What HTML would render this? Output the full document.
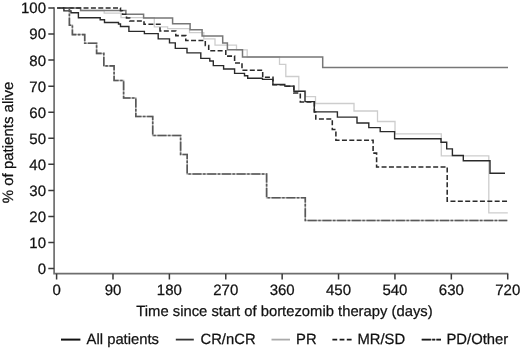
<!DOCTYPE html>
<html><head><meta charset="utf-8"><style>
html,body{margin:0;padding:0;background:#fff;}
svg{display:block;will-change:transform;}
text{font-family:"Liberation Sans",sans-serif;fill:#111;stroke:#111;stroke-width:0.25px;text-rendering:geometricPrecision;}
.t{font-size:15px;}
.xt{font-size:14.8px;}
.yt{font-size:15px;}
.lg{font-size:14.8px;}
path{fill:none;}
.all{stroke:#2a2a2a;stroke-width:1.4;}
.cr{stroke:#777;stroke-width:1.5;}
.pr{stroke:#cdcdcd;stroke-width:1.3;}
.mr{stroke:#2a2a2a;stroke-width:1.55;stroke-dasharray:5 2.37;stroke-dashoffset:3.35;}
.pd{stroke:#585858;stroke-width:1.6;stroke-dasharray:9 1.6 2.4 1.7;stroke-dashoffset:7.6;}
.pdu{stroke:#b0b0b0;stroke-width:1.5;}
.lall{stroke:#111;stroke-width:2;}
.lcr{stroke:#333;stroke-width:1.8;}
.lpr{stroke:#aaa;stroke-width:1.8;}
.lmr{stroke:#1a1a1a;stroke-width:1.9;stroke-dasharray:4.8 2.4;}
.lpd{stroke:#1a1a1a;stroke-width:1.9;stroke-dasharray:9.2 1.3 2.8 1.4;}
</style></head><body>
<svg width="520" height="348" viewBox="0 0 520 348">
<path d="M54.1 7.2V273.7H508.32000000000005" fill="none" stroke="#6e6e6e" stroke-width="1.7"/>
<path d="M48.3 8.00H54.1 M48.3 34.06H54.1 M48.3 60.12H54.1 M48.3 86.18H54.1 M48.3 112.24H54.1 M48.3 138.30H54.1 M48.3 164.36H54.1 M48.3 190.42H54.1 M48.3 216.48H54.1 M48.3 242.54H54.1 M48.3 268.60H54.1 M56.60 273.7V279.4 M112.99 273.7V279.4 M169.38 273.7V279.4 M225.77 273.7V279.4 M282.16 273.7V279.4 M338.55 273.7V279.4 M394.94 273.7V279.4 M451.33 273.7V279.4 M507.72 273.7V279.4" stroke="#3a3a3a" stroke-width="1.5" fill="none"/>
<text x="46.0" y="13.40" text-anchor="end" class="t">100</text>
<text x="46.0" y="39.46" text-anchor="end" class="t">90</text>
<text x="46.0" y="65.52" text-anchor="end" class="t">80</text>
<text x="46.0" y="91.58" text-anchor="end" class="t">70</text>
<text x="46.0" y="117.64" text-anchor="end" class="t">60</text>
<text x="46.0" y="143.70" text-anchor="end" class="t">50</text>
<text x="46.0" y="169.76" text-anchor="end" class="t">40</text>
<text x="46.0" y="195.82" text-anchor="end" class="t">30</text>
<text x="46.0" y="221.88" text-anchor="end" class="t">20</text>
<text x="46.0" y="247.94" text-anchor="end" class="t">10</text>
<text x="46.0" y="274.00" text-anchor="end" class="t">0</text>
<text x="56.60" y="294.6" text-anchor="middle" class="t">0</text>
<text x="112.99" y="294.6" text-anchor="middle" class="t">90</text>
<text x="169.38" y="294.6" text-anchor="middle" class="t">180</text>
<text x="225.77" y="294.6" text-anchor="middle" class="t">270</text>
<text x="282.16" y="294.6" text-anchor="middle" class="t">360</text>
<text x="338.55" y="294.6" text-anchor="middle" class="t">450</text>
<text x="394.94" y="294.6" text-anchor="middle" class="t">540</text>
<text x="451.33" y="294.6" text-anchor="middle" class="t">630</text>
<text x="507.72" y="294.6" text-anchor="middle" class="t">720</text>
<text x="136.3" y="315.7" class="xt">Time since start of bortezomib therapy (days)</text>
<text transform="translate(12.9,203.3) rotate(-90)" class="yt">% of patients alive</text>
<path d="M57.4 8.0L69.4 8.0L69.4 25.2L72.4 25.2L72.4 34.6L84.7 34.6L84.7 43.3L96.6 43.3L96.6 53.4L103.8 53.4L103.8 65.9L114.1 65.9L114.1 80.5L123.6 80.5L123.6 98L135.8 98L135.8 116.5L152.7 116.5L152.7 135.5L180.6 135.5L180.6 154.5L187.2 154.5L187.2 174L266.6 174L266.6 197.8L305.3 197.8L305.3 220.5L507.3 220.5" class="pdu"/>
<path d="M57.4 8.0L80.6 8.0L80.6 10.5L104.2 10.5L104.2 13.2L121.0 13.2L121.0 17.6L154.3 17.6L154.3 26.8L167.6 26.8L167.6 28.6L189.5 28.6L189.5 32.6L203.8 32.6L203.8 38.8L215.0 38.8L215.0 45.1L236.5 45.1L236.5 49.8L247.2 49.8L247.2 57.0L279.5 57.0L279.5 64.3L285.8 64.3L285.8 76.5L298.8 76.5L298.8 91.1L305.5 91.1L305.5 96.6L315.5 96.6L315.5 103.5L354.0 103.5L354.0 111.0L377.5 111.0L377.5 121.5L395.0 121.5L395.0 133.9L441.3 133.9L441.3 155.8L488.8 155.8L488.8 212.9L507.8 212.9" class="pr"/>
<path d="M57.4 8.0L80.6 8.0L80.6 10.5L125.9 10.5L125.9 14.2L143.6 14.2L143.6 17.9L172.6 17.9L172.6 23.7L190.1 23.7L190.1 29.7L202.1 29.7L202.1 35.9L222.7 35.9L222.7 42.9L227.4 42.9L227.4 49.7L242.5 49.7L242.5 56.9L322.7 56.9L322.7 67.5L508.0 67.5" class="cr"/>
<path d="M57.4 8.0L120.5 8.0L120.5 10.7L122.5 10.7L122.5 14.3L126.5 14.3L126.5 17.9L129.7 17.9L129.7 21.0L144.0 21.0L144.0 24.2L160.0 24.2L160.0 30.9L175.8 30.9L175.8 35.6L185.8 35.6L185.8 40.5L205.3 40.5L205.3 45.5L208.7 45.5L208.7 50.8L225.8 50.8L225.8 56.1L234.6 56.1L234.6 62.9L242.0 62.9L242.0 70.2L262.7 70.2L262.7 77.2L273.0 77.2L273.0 84.7L285.0 84.7L285.0 86.2L293.8 86.2L293.8 93.0L300.3 93.0L300.3 102.0L314.4 102.0L314.4 112.0L315.8 112.0L315.8 119.0L332.3 119.0L332.3 129.5L335.9 129.5L335.9 140.2L373.1 140.2L373.1 153.1L376.6 153.1L376.6 166.9L447.2 166.9L447.2 201.2L507.3 201.2" class="mr"/>
<path d="M57.4 8.0L63.9 8.0L63.9 10.9L71.0 10.9L71.0 12.7L78.4 12.7L78.4 17.7L100.2 17.7L100.2 19.8L104.5 19.8L104.5 22.5L118.5 22.5L118.5 24.0L120.5 24.0L120.5 26.5L128.9 26.5L128.9 31.4L144.4 31.4L144.4 33.6L158.2 33.6L158.2 38.9L169.5 38.9L169.5 42.9L175.3 42.9L175.3 48.4L187.0 48.4L187.0 52.9L200.8 52.9L200.8 58.4L209.8 58.4L209.8 61.0L213.3 61.0L213.3 65.6L223.6 65.6L223.6 69.0L234.6 69.0L234.6 73.4L244.5 73.4L244.5 75.8L247.7 75.8L247.7 78.2L262.5 78.2L262.5 79.4L272.9 79.4L272.9 84.5L284.8 84.5L284.8 86.1L293.9 86.1L293.9 91.2L305.0 91.2L305.0 101.6L314.3 101.6L314.3 111.9L337.4 111.9L337.4 117.1L357.0 117.1L357.0 123.0L368.8 123.0L368.8 127.6L380.2 127.6L380.2 131.6L394.6 131.6L394.6 138.8L441.0 138.8L441.0 142.2L446.7 142.2L446.7 148.9L452.4 148.9L452.4 155.5L463.3 155.5L463.3 160.7L490.0 160.7L490.0 173.3L505.0 173.3" class="all"/>
<path d="M57.4 8.0L69.4 8.0L69.4 25.2L72.4 25.2L72.4 34.6L84.7 34.6L84.7 43.3L96.6 43.3L96.6 53.4L103.8 53.4L103.8 65.9L114.1 65.9L114.1 80.5L123.6 80.5L123.6 98L135.8 98L135.8 116.5L152.7 116.5L152.7 135.5L180.6 135.5L180.6 154.5L187.2 154.5L187.2 174L266.6 174L266.6 197.8L305.3 197.8L305.3 220.5L507.3 220.5" class="pd"/>
<path d="M61.0 339.6H80.4" class="lall"/>
<text x="86.6" y="344" class="lg">All patients</text>
<path d="M175.8 339.6H193.8" class="lcr"/>
<text x="200.5" y="344" class="lg">CR/nCR</text>
<path d="M271.5 339.6H290.0" class="lpr"/>
<text x="296.1" y="344" class="lg">PR</text>
<path d="M332.4 339.6H351.6" class="lmr"/>
<text x="357.4" y="344" class="lg">MR/SD</text>
<path d="M421.7 339.6H441.0" class="pdu"/>
<path d="M421.7 339.6H441.0" class="lpd"/>
<text x="446.5" y="344" class="lg">PD/Other</text>
</svg>
</body></html>
